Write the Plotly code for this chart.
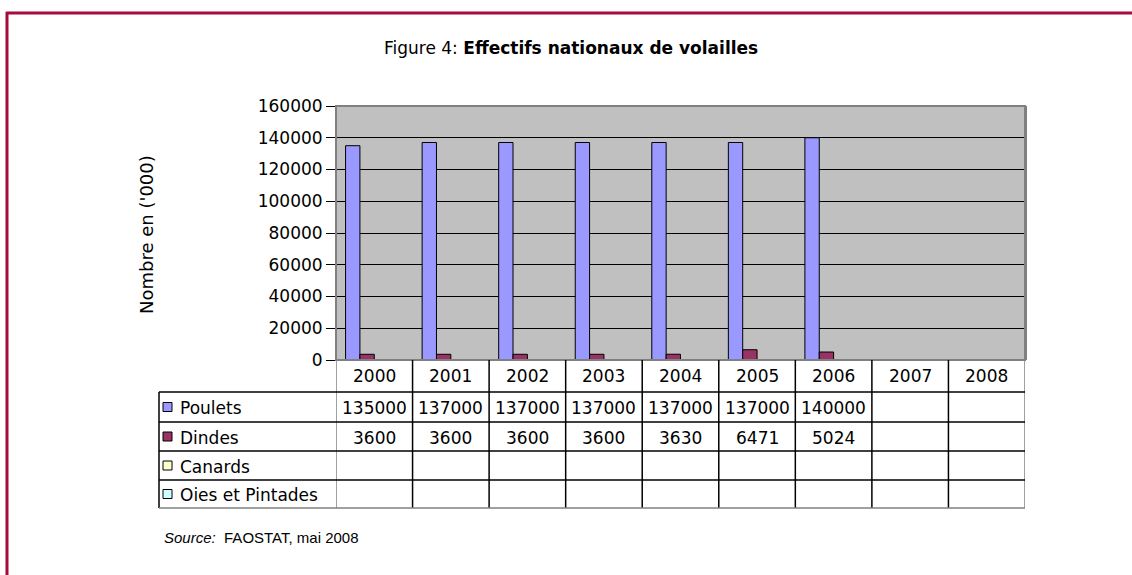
import plotly.graph_objects as go

years = ["2000", "2001", "2002", "2003", "2004", "2005", "2006", "2007", "2008"]
series_names = ["Poulets", "Dindes", "Canards", "Oies et Pintades"]
poulets = [135000, 137000, 137000, 137000, 137000, 137000, 140000, None, None]
dindes = [3600, 3600, 3600, 3600, 3630, 6471, 5024, None, None]
canards = [None] * 9
oies = [None] * 9
series_values = [poulets, dindes, canards, oies]
colors = ["#9999FF", "#993366", "#FFFFCC", "#CCFFFF"]
y_ticks = [0, 20000, 40000, 60000, 80000, 100000, 120000, 140000, 160000]

W, H = 1132, 575
PX_L, PX_R, PX_T, PX_B = 336, 1025, 106, 360


def px(x):
    return x / W


def py(y):
    return 1 - y / H


FONT = "DejaVu Sans"

fig = go.Figure()
for name, vals, col in zip(series_names, series_values, colors):
    fig.add_trace(go.Bar(
        x=years, y=vals, name=name,
        marker=dict(color=col, line=dict(color="black", width=1)),
        showlegend=False,
    ))

shapes = []
annotations = []

# Frame
frame_col = "#A50B3B"
shapes.append(dict(type="line", xref="paper", yref="paper", x0=px(6), x1=1.01, y0=py(13), y1=py(13),
                   line=dict(color=frame_col, width=3)))
shapes.append(dict(type="line", xref="paper", yref="paper", x0=px(7), x1=px(7), y0=py(12), y1=-0.01,
                   line=dict(color=frame_col, width=3)))

# Plot border (gray)
shapes.append(dict(type="rect", xref="paper", yref="paper", x0=px(PX_L), x1=px(PX_R), y0=py(PX_B), y1=py(PX_T),
                   line=dict(color="#808080", width=2), layer="above"))
shapes.append(dict(type="line", xref="paper", yref="paper", x0=px(PX_R + 1), x1=px(PX_R + 1),
                   y0=py(PX_B), y1=py(PX_T), line=dict(color="#808080", width=2), layer="above"))

# Table geometry
row_y = [360, 392, 422, 451, 480, 508]
tab_left = 159
n = len(years)

for i in range(n + 1):
    shapes.append(dict(type="line", xref="x", yref="paper", x0=i - 0.5, x1=i - 0.5,
                       y0=py(row_y[0]), y1=py(row_y[-1]),
                       line=dict(color="#000000" if 0 < i < n else "#808080", width=1.5)))
shapes.append(dict(type="line", xref="paper", yref="paper", x0=px(tab_left), x1=px(tab_left),
                   y0=py(row_y[1]), y1=py(row_y[-1]), line=dict(color="#000000", width=1.5)))
for k, yy in enumerate(row_y[1:]):
    shapes.append(dict(type="line", xref="paper", yref="paper", x0=px(tab_left), x1=px(PX_R),
                       y0=py(yy), y1=py(yy),
                       line=dict(color="#808080" if k == len(row_y) - 2 else "#000000", width=1.5)))

TF = dict(family=FONT, size=17, color="black")

for i, yr in enumerate(years):
    annotations.append(dict(x=i, y=py((row_y[0] + row_y[1]) / 2), xref="x", yref="paper",
                            text=yr, showarrow=False, font=TF, xanchor="center", yanchor="middle"))

for r, (name, vals, col) in enumerate(zip(series_names, series_values, colors)):
    yc = (row_y[r + 1] + row_y[r + 2]) / 2
    shapes.append(dict(type="rect", xref="paper", yref="paper",
                       x0=px(163), x1=px(172), y0=py(yc + 4.5), y1=py(yc - 4.5),
                       fillcolor=col, line=dict(color="black", width=1)))
    annotations.append(dict(x=px(178), y=py(yc + 1), xref="paper", yref="paper", text=name,
                            showarrow=False, font=TF, xanchor="left", yanchor="middle"))
    for i, v in enumerate(vals):
        if v is not None:
            annotations.append(dict(x=i, y=py(yc + 1), xref="x", yref="paper", text=str(v),
                                    showarrow=False, font=TF, xanchor="center", yanchor="middle"))

# Title
annotations.append(dict(x=px(571), y=py(48), xref="paper", yref="paper",
                        text="Figure 4: <b>Effectifs nationaux de volailles</b>",
                        showarrow=False, font=dict(family=FONT, size=17, color="black"),
                        xanchor="center", yanchor="middle"))
# Y title
annotations.append(dict(x=px(146), y=py(235), xref="paper", yref="paper",
                        text="Nombre en ('000)", textangle=-90,
                        showarrow=False, font=dict(family=FONT, size=18, color="black"),
                        xanchor="center", yanchor="middle"))
# Source
annotations.append(dict(x=px(162), y=py(537), xref="paper", yref="paper",
                        text="<i>Source:</i>  FAOSTAT, mai 2008",
                        showarrow=False, font=dict(family="Liberation Sans", size=15, color="black"),
                        xanchor="left", yanchor="middle"))

fig.update_layout(
    template="none",
    width=W, height=H,
    margin=dict(l=0, r=0, t=0, b=0),
    paper_bgcolor="white",
    plot_bgcolor="#C0C0C0",
    barmode="group",
    bargap=0.25,
    bargroupgap=0,
    xaxis=dict(domain=[px(PX_L), px(PX_R)], type="category", range=[-0.5, n - 0.5],
               showticklabels=False, ticks="", showgrid=False, zeroline=False, showline=False,
               automargin=False, fixedrange=True),
    yaxis=dict(domain=[py(PX_B), py(PX_T)], range=[0, 160000], tickvals=y_ticks,
               ticktext=[str(v) for v in y_ticks],
               ticks="outside", ticklen=9, tickcolor="black", tickwidth=1,
               tickfont=dict(family=FONT, size=17, color="black"),
               showgrid=True, gridcolor="black", gridwidth=1, zeroline=False,
               showline=False, automargin=False, fixedrange=True),
    shapes=shapes,
    annotations=annotations,
)

fig.write_html("out.html", config={"displayModeBar": False},
               post_script="document.body.style.margin='0';")
